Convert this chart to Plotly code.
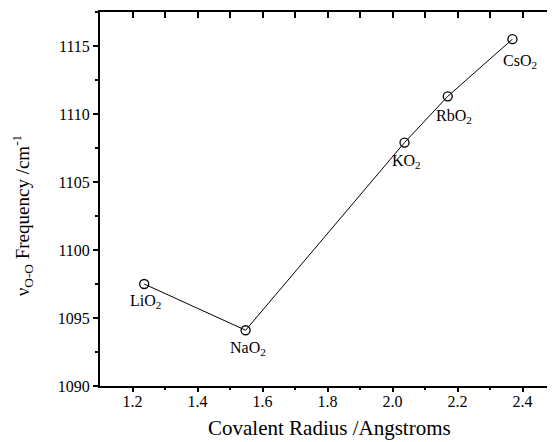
import plotly.graph_objects as go

compounds = ["LiO<sub>2</sub>", "NaO<sub>2</sub>", "KO<sub>2</sub>", "RbO<sub>2</sub>", "CsO<sub>2</sub>"]
radius = [1.236, 1.548, 2.037, 2.170, 2.369]
freq = [1097.5, 1094.1, 1107.9, 1111.3, 1115.5]
label_dx = [1, 2, 2, 6, 8]
label_dy = [-17, -18, -19, -20, -22]

X_TITLE = "Covalent Radius /Angstroms"
Y_TITLE = "ν<sub>O-O</sub> Frequency /cm<sup>-1</sup>"
X_TICKS = [1.2, 1.4, 1.6, 1.8, 2.0, 2.2, 2.4]
X_TICKTEXT = ["1.2", "1.4", "1.6", "1.8", "2.0", "2.2", "2.4"]
Y_TICKS = [1090, 1095, 1100, 1105, 1110, 1115]

FONT = "Liberation Serif, Times New Roman, serif"
XR = [1.1, 2.5]
YR = [1090, 1117.5]

fig = go.Figure()
fig.add_trace(go.Scatter(
    x=radius, y=freq, mode="lines+markers",
    line=dict(color="black", width=1),
    marker=dict(symbol="circle-open", size=9, color="black", line=dict(width=1.3)),
    showlegend=False, hoverinfo="skip"))
fig.add_trace(go.Scatter(x=radius, y=freq, xaxis="x2", yaxis="y2", mode="none",
                         showlegend=False, hoverinfo="skip"))
fig.add_trace(go.Scatter(x=radius, y=freq, xaxis="x3", yaxis="y", mode="none",
                         showlegend=False, hoverinfo="skip"))

for name, x, y, dx, dy in zip(compounds, radius, freq, label_dx, label_dy):
    fig.add_annotation(x=x, y=y, text=name, showarrow=False, xshift=dx, yshift=dy,
                       font=dict(family=FONT, size=16, color="black"))

fig.add_annotation(xref="paper", yref="paper", x=0.505, y=-0.113, text=X_TITLE,
                   showarrow=False, xanchor="center", yanchor="middle",
                   font=dict(family=FONT, size=21, color="black"))
fig.add_annotation(xref="paper", yref="paper", x=-0.171, y=0.457, text=Y_TITLE,
                   showarrow=False, xanchor="center", yanchor="middle", textangle=-90,
                   font=dict(family=FONT, size=19, color="black"))

# page body has an 8px margin, so the figure is drawn 8px smaller and shifted
fig.update_layout(
    width=547, height=434,
    margin=dict(l=92, r=0, t=4, b=56, autoexpand=False),
    paper_bgcolor="white", plot_bgcolor="white",
    font=dict(family=FONT, color="black", size=16),
    xaxis=dict(range=XR, tickvals=X_TICKS, ticktext=X_TICKTEXT, ticks="",
               showline=True, linecolor="black", linewidth=2, showgrid=False, zeroline=False,
               tickfont=dict(size=16), automargin=False),
    xaxis3=dict(range=XR, overlaying="x", side="bottom", anchor="y",
                tickvals=X_TICKS, ticks="outside", ticklen=5, tickwidth=1.5, tickcolor="black",
                minor=dict(tickvals=[1.3, 1.5, 1.7, 1.9, 2.1, 2.3], ticks="outside", ticklen=3, tickcolor="black"),
                showticklabels=False, showline=False, showgrid=False, zeroline=False, automargin=False),
    yaxis=dict(range=YR, tickvals=Y_TICKS,
               ticks="outside", ticklen=5, tickwidth=1.5, tickcolor="black",
               minor=dict(tickvals=[1092.5, 1097.5, 1102.5, 1107.5, 1112.5, 1117.5], ticks="outside", ticklen=3, tickcolor="black"),
               showline=True, linecolor="black", linewidth=2, showgrid=False, zeroline=False,
               tickfont=dict(size=16), automargin=False),
    xaxis2=dict(range=XR, overlaying="x", side="top", anchor="y",
                tickvals=[1.1, 1.2, 1.3, 1.4, 1.5, 1.6, 1.7, 1.8, 1.9, 2.0, 2.1, 2.2, 2.3, 2.4],
                ticks="inside", ticklen=6, tickwidth=1.5, tickcolor="black", showticklabels=False,
                showline=True, linecolor="black", linewidth=2, showgrid=False, zeroline=False,
                automargin=False),
    yaxis2=dict(range=YR, overlaying="y", side="right", anchor="x",
                tickvals=[1090, 1092.5, 1095, 1097.5, 1100, 1102.5, 1105, 1107.5, 1110, 1112.5, 1115, 1117.5],
                ticks="inside", ticklen=6, tickwidth=1.5, tickcolor="black", showticklabels=False,
                showline=False, showgrid=False, zeroline=False, automargin=False),
)

fig.write_html("out.html")
